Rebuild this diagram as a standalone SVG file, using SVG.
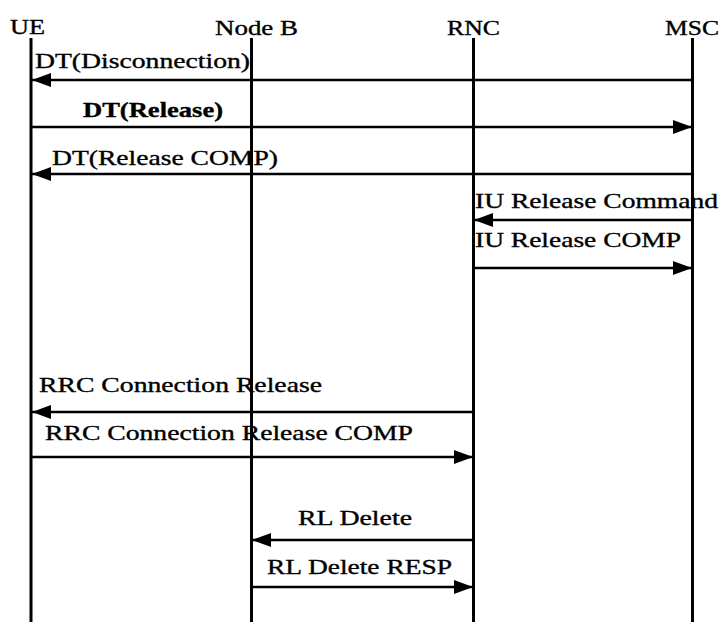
<svg xmlns="http://www.w3.org/2000/svg" width="723" height="625" viewBox="0 0 723 625">
  <style>
    text { font-family: "Liberation Serif", "Times New Roman", serif; font-size: 21px; fill: #000; stroke: #000; stroke-width: 0.35; }
    .life { stroke: #000; stroke-width: 3; fill: none; }
    .msg { stroke: #000; stroke-width: 2.4; fill: none; marker-end: url(#arrow); }
  </style>
  <defs>
    <marker id="arrow" markerUnits="userSpaceOnUse" markerWidth="20" markerHeight="14" refX="19" refY="7" orient="auto">
      <path d="M0,0 L19,7 L0,14 Z" fill="#000"/>
    </marker>
  </defs>
  <rect width="723" height="625" fill="#fff"/>

  <g id="ue">
    <text x="10" y="34" textLength="35" lengthAdjust="spacingAndGlyphs">UE</text>
    <line class="life" x1="31" y1="38" x2="31" y2="622"/>
  </g>
  <g id="nodeb">
    <text x="215" y="35" textLength="83" lengthAdjust="spacingAndGlyphs">Node B</text>
    <line class="life" x1="251.5" y1="38" x2="251.5" y2="622"/>
  </g>
  <g id="rnc">
    <text x="447" y="35" textLength="53" lengthAdjust="spacingAndGlyphs">RNC</text>
    <line class="life" x1="473.5" y1="38" x2="473.5" y2="622"/>
  </g>
  <g id="msc">
    <text x="665" y="35" textLength="54" lengthAdjust="spacingAndGlyphs">MSC</text>
    <line class="life" x1="692.5" y1="38" x2="692.5" y2="622"/>
  </g>

  <g id="connectors">
    <line class="msg" x1="692" y1="80" x2="32" y2="80"/>
    <line class="msg" x1="32" y1="127" x2="692" y2="127"/>
    <line class="msg" x1="692" y1="174" x2="32" y2="174"/>
    <line class="msg" x1="692" y1="220" x2="474" y2="220"/>
    <line class="msg" x1="474" y1="268" x2="692" y2="268"/>
    <line class="msg" x1="473" y1="412" x2="32" y2="412"/>
    <line class="msg" x1="32" y1="457" x2="473" y2="457"/>
    <line class="msg" x1="473" y1="540" x2="252" y2="540"/>
    <line class="msg" x1="252" y1="587" x2="473" y2="587"/>
  </g>

  <g id="labels">
    <text x="35" y="68" textLength="215" lengthAdjust="spacingAndGlyphs">DT(Disconnection)</text>
    <text x="83" y="117" textLength="140" lengthAdjust="spacingAndGlyphs" font-weight="bold">DT(Release)</text>
    <text x="52" y="165" textLength="226" lengthAdjust="spacingAndGlyphs">DT(Release COMP)</text>
    <text x="475" y="208" textLength="243" lengthAdjust="spacingAndGlyphs">IU Release Command</text>
    <text x="475" y="247" textLength="206" lengthAdjust="spacingAndGlyphs">IU Release COMP</text>
    <text x="39" y="392" textLength="283" lengthAdjust="spacingAndGlyphs">RRC Connection Release</text>
    <text x="45" y="440" textLength="368" lengthAdjust="spacingAndGlyphs">RRC Connection Release COMP</text>
    <text x="298" y="525" textLength="114" lengthAdjust="spacingAndGlyphs">RL Delete</text>
    <text x="267" y="574" textLength="185" lengthAdjust="spacingAndGlyphs">RL Delete RESP</text>
  </g>
</svg>
